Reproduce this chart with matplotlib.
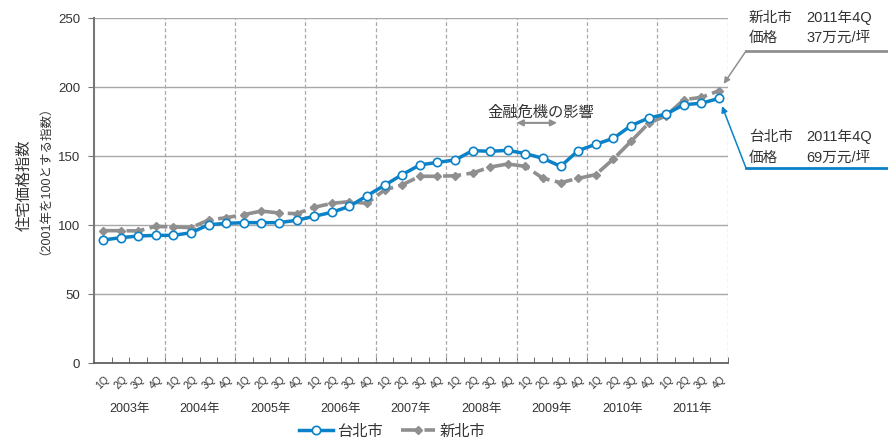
import matplotlib
matplotlib.use("Agg")
import matplotlib.pyplot as plt
from matplotlib.lines import Line2D
import numpy as np

plt.rcParams['font.family'] = ['Liberation Sans', 'Noto Sans CJK JP', 'DejaVu Sans']

##############DATA#################
years = ["2003年", "2004年", "2005年", "2006年", "2007年", "2008年", "2009年", "2010年", "2011年"]
quarters = ["1Q", "2Q", "3Q", "4Q"]

taipei = [89.1, 90.8, 92.0, 92.5, 92.5, 94.4, 100.2, 101.2, 101.7, 101.7, 101.7, 103.4,
          106.3, 109.2, 113.5, 121.2, 128.8, 136.5, 143.5, 145.4, 147.1, 153.9, 153.4, 154.1,
          151.7, 148.3, 142.5, 153.9, 158.5, 162.8, 172.0, 177.5, 180.4, 187.2, 188.2, 191.8]
new_taipei = [95.9, 95.9, 95.7, 99.0, 98.6, 98.1, 103.6, 105.3, 107.5, 110.1, 108.7, 108.2,
              112.8, 115.7, 116.9, 115.7, 125.4, 129.1, 135.3, 135.3, 135.7, 137.7, 142.0, 144.2,
              142.5, 133.8, 130.7, 133.8, 136.5, 147.8, 160.6, 173.7, 179.2, 190.8, 192.5, 197.3]

names = ["台北市", "新北市"]
note_taipei = ["台北市", "2011年4Q", "価格", "69万元/坪"]
note_new = ["新北市", "2011年4Q", "価格", "37万元/坪"]
crisis_label = "金融危機の影響"
crisis_span = (23.5, 25.8)   # 2009 start -> mid 2009
ylabel = ["住宅価格指数", "（2001年を100とする指数）"]

BLUE = "#0b82c8"
GRAY = "#8f8f8f"
GRID = "#a8a8a8"
TXT = "#333333"

##############PLOT#################
W, H = 888, 439
fig = plt.figure(figsize=(W / 100, H / 100), dpi=100)
ax = fig.add_axes([94.2 / W, 1 - 364 / H, (727.8 - 94.2) / W, (364 - 19) / H])

x = np.arange(len(taipei))
ax.set_xlim(-0.5, len(taipei) - 0.5)
ax.set_ylim(0, 250)
ax.set_yticks(np.arange(0, 251, 50))
ax.yaxis.grid(True, color=GRID, lw=1)
ax.set_axisbelow(True)

# year separators
for k in range(1, len(years) + 1):
    ax.axvline(4 * k - 0.5, color=GRID, lw=0.9, ls=(0, (3, 2)), zorder=1)

l_new, = ax.plot(x, new_taipei, color=GRAY, lw=2.6, ls=(0, (5, 1.5)), marker="D", ms=4.5,
                 mfc=GRAY, mec=GRAY, zorder=3, label=names[1])
l_tpe, = ax.plot(x, taipei, color=BLUE, lw=2.5, marker="o", ms=6, mfc="white",
                 mec=BLUE, mew=1.2, zorder=4, label=names[0])

for s in ["top", "right"]:
    ax.spines[s].set_visible(False)
ax.spines["left"].set_color("#777777")
ax.spines["left"].set_linewidth(1.5)
ax.spines["bottom"].set_color("#555555")
ax.spines["bottom"].set_linewidth(1.2)

ax.tick_params(axis="y", length=4, color="#777777", labelsize=9.5, labelcolor=TXT, pad=6)
ax.set_xticks(x)
ax.set_xticklabels(quarters * len(years), rotation=45, fontsize=7.5, color=TXT)
ax.tick_params(axis="x", which="major", length=0, pad=7)
ax.set_xticks(np.arange(-0.5, len(taipei), 1), minor=True)
ax.tick_params(axis="x", which="minor", direction="in", length=4, color="#555555")

for i, yname in enumerate(years):
    ax.text(4 * i + 1.5, -0.13, yname, transform=ax.get_xaxis_transform(),
            ha="center", va="center", fontsize=9, color=TXT)

# y label
fig.text(25 / W, 1 - 185 / H, ylabel[0], rotation=90, ha="center", va="center",
         fontsize=11, color=TXT)
fig.text(39 / W, 1 - 174 / H, ylabel[1], rotation=90, ha="center", va="center",
         fontsize=9, color=TXT)

# financial crisis annotation
ax.annotate("", xy=(crisis_span[0], 174), xytext=(crisis_span[1], 174),
            arrowprops=dict(arrowstyle="<|-|>", color=GRAY, lw=1.5,
                            mutation_scale=9, shrinkA=0, shrinkB=0))
ax.text(sum(crisis_span) / 2 + 0.2, 182, crisis_label, ha="center", va="center",
        fontsize=11, color=TXT)

# callouts on the right
def callout(note, val, color, y_line, y_rows):
    ax.annotate("", xy=(x[-1], val), xycoords="data",
                xytext=(746 / W, 1 - y_line / H), textcoords="figure fraction",
                arrowprops=dict(arrowstyle="-|>", color=color, lw=1.1,
                                mutation_scale=9, shrinkA=0, shrinkB=6),
                annotation_clip=False)
    fig.add_artist(Line2D([746 / W, 1.0], [1 - y_line / H] * 2, color=color, lw=2))
    for r, yy in enumerate(y_rows):
        fig.text(749 / W, 1 - yy / H, note[2 * r], ha="left", va="center",
                 fontsize=10.5, color=TXT)
        fig.text(806 / W, 1 - yy / H, note[2 * r + 1], ha="left", va="center",
                 fontsize=10.5, color=TXT)

callout(note_new, new_taipei[-1], GRAY, 52, [18, 38])
callout(note_taipei, taipei[-1], BLUE, 169, [137, 158])

leg = fig.legend(handles=[l_tpe, l_new], loc="center", bbox_to_anchor=(392 / W, 1 - 432 / H),
                 ncol=2, frameon=False, fontsize=11, handlelength=2.2, columnspacing=1.2,
                 handletextpad=0.3)
for t in leg.get_texts():
    t.set_color(TXT)

fig.savefig("out.png", dpi=100)
